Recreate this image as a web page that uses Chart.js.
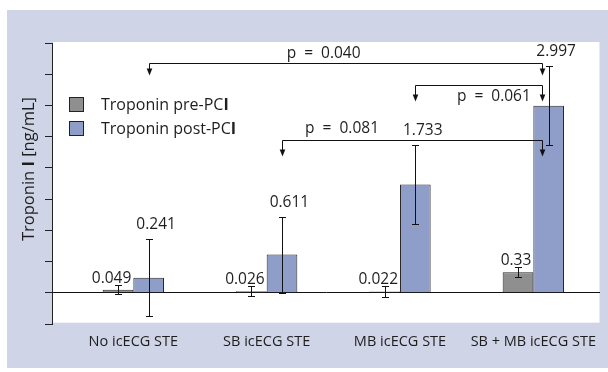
<!DOCTYPE html>
<html>
<head>
<meta charset="utf-8">
<script src="https://cdn.jsdelivr.net/npm/chart.js@4.4.1/dist/chart.umd.min.js"></script>
<style>
  body { margin: 0; background: #fff; }
  #wrap { width: 608px; height: 372px; position: relative; }
</style>
</head>
<body>
<div id="wrap"><canvas id="chart"></canvas></div>
<script>
// data
var categories = ["No icECG STE", "SB icECG STE", "MB icECG STE", "SB + MB icECG STE"];
var seriesNames = ["Troponin pre-PCI", "Troponin post-PCI"];
var preValues = [0.049, 0.026, 0.022, 0.33];
var preErrors = [0.07, 0.08, 0.085, 0.077];
var postValues = [0.241, 0.611, 1.733, 2.997];
var postErrors = [0.615, 0.61, 0.63, 0.63];
var yMin = -0.5, yMax = 4, yStep = 0.5;

// p-value brackets: from category -> to category, line level in ng/mL
var bracketFrom = [0, 2, 1];
var bracketTo = [3, 3, 3];
var bracketLevel = [3.68, 3.32, 2.44];
var bracketText = ["p = 0.040", "p = 0.061", "p = 0.081"];

var FONT = '"Open Sans", "Noto Sans", sans-serif';
var INK = "#1e1e1e";

function points(values) {
    return values.map(function(v, i) { return {x: i, y: v}; });
}

var framePlugin = {
    id: "frame",
    beforeDraw: function(chart) {
        var ctx = chart.ctx, a = chart.chartArea;
        ctx.save();
        ctx.fillStyle = "#ffffff";
        ctx.fillRect(0, 0, chart.width, chart.height);
        ctx.fillStyle = "#cfd4e6";
        ctx.fillRect(7, 10, chart.width - 7, chart.height - 14);
        ctx.fillStyle = "#ffffff";
        ctx.fillRect(a.left + 1, a.top - 1, a.right - a.left - 1.5, a.bottom - a.top - 0.3);
        ctx.restore();
    }
};

var errorBarPlugin = {
    id: "errorBars",
    afterDatasetsDraw: function(chart) {
        var ctx = chart.ctx, ys = chart.scales.y;
        ctx.save();
        ctx.strokeStyle = "#111";
        ctx.lineWidth = 1;
        ctx.fillStyle = INK;
        ctx.font = "15.5px " + FONT;
        ctx.textBaseline = "middle";
        chart.data.datasets.forEach(function(ds, di) {
            chart.getDatasetMeta(di).data.forEach(function(bar, i) {
                var v = ds.data[i].y, e = ds.errors[i];
                var x = Math.round(bar.x) + 0.5;
                var top = Math.round(ys.getPixelForValue(v + e)) + 0.5;
                var bot = Math.round(ys.getPixelForValue(v - e)) + 0.5;
                ctx.beginPath();
                ctx.moveTo(x, top); ctx.lineTo(x, bot);
                ctx.moveTo(x - 3.5, top); ctx.lineTo(x + 3.5, top);
                ctx.moveTo(x - 3.5, bot); ctx.lineTo(x + 3.5, bot);
                ctx.stroke();
                // value label
                if (di === 0) {
                    ctx.textAlign = "right";
                    ctx.fillText(String(v), bar.x + bar.width / 2 - 2, top - 7);
                } else {
                    ctx.textAlign = "left";
                    ctx.fillText(String(v), bar.x - bar.width / 2 + 3, top - 15);
                }
            });
        });
        ctx.restore();
    }
};

var bracketPlugin = {
    id: "brackets",
    afterDatasetsDraw: function(chart, args, opts) {
        var ctx = chart.ctx, ys = chart.scales.y;
        var post = chart.getDatasetMeta(1).data;
        ctx.save();
        ctx.strokeStyle = "#111";
        ctx.fillStyle = "#111";
        ctx.lineWidth = 1;
        ctx.font = "15.5px " + FONT;
        ctx.wordSpacing = "4px";
        ctx.textBaseline = "middle";
        ctx.textAlign = "center";
        bracketFrom.forEach(function(f, k) {
            var x1 = Math.round(post[f].x) + 0.5;
            var x2 = Math.round(post[bracketTo[k]].x - 6.5) + 0.5;
            var yl = Math.round(ys.getPixelForValue(bracketLevel[k])) + 0.5;
            var tip = yl + opts.drop[k];
            ctx.beginPath();
            ctx.moveTo(x1, tip - 6);
            ctx.lineTo(x1, yl);
            ctx.lineTo(x2, yl);
            ctx.lineTo(x2, tip - 6);
            ctx.stroke();
            [x1, x2].forEach(function(x) {
                ctx.beginPath();
                ctx.moveTo(x - 2.8, tip - 7);
                ctx.lineTo(x + 2.8, tip - 7);
                ctx.lineTo(x, tip);
                ctx.closePath();
                ctx.fill();
            });
            var lp = opts.label[k];
            ctx.fillStyle = INK;
            ctx.fillText(bracketText[k], x1 + (x2 - x1) * lp.t, yl + lp.dy);
            ctx.fillStyle = "#111";
        });
        ctx.restore();
    }
};

// draws text where the capital I is set in bold, as in the figure
function drawMixed(ctx, parts, x, y, size) {
    var w = 0;
    parts.forEach(function(p) {
        ctx.font = (p.bold ? "bold " : "") + size + "px " + FONT;
        p.w = ctx.measureText(p.text).width;
        w += p.w;
    });
    var cx = x;
    parts.forEach(function(p) {
        ctx.font = (p.bold ? "bold " : "") + size + "px " + FONT;
        ctx.fillText(p.text, cx, y);
        cx += p.w;
    });
    return w;
}

var legendPlugin = {
    id: "customLegend",
    afterDraw: function(chart) {
        var ctx = chart.ctx, a = chart.chartArea;
        ctx.save();
        ctx.textBaseline = "middle";
        ctx.textAlign = "left";
        chart.data.datasets.forEach(function(ds, i) {
            var bx = a.left + 17, by = a.top + 54 + i * 24;
            ctx.fillStyle = ds.backgroundColor;
            ctx.fillRect(bx, by, 15, 15);
            ctx.strokeStyle = "#222";
            ctx.lineWidth = 1;
            ctx.strokeRect(bx + 0.5, by + 0.5, 14, 14);
            ctx.fillStyle = INK;
            var name = ds.label;
            drawMixed(ctx, [{text: name.slice(0, -1)}, {text: name.slice(-1), bold: true}], bx + 32, by + 8.5, 16);
        });
        // y axis title
        ctx.translate(29, 169);
        ctx.rotate(-Math.PI / 2);
        var parts = [{text: "Troponin "}, {text: "I", bold: true}, {text: " [ng/mL]"}];
        var total = 0;
        parts.forEach(function(p) {
            ctx.font = (p.bold ? "bold " : "") + "16.5px " + FONT;
            total += ctx.measureText(p.text).width;
        });
        drawMixed(ctx, parts, -total / 2, 0, 16.5);
        ctx.restore();
    }
};

new Chart(document.getElementById("chart"), {
    type: "bar",
    data: {
        datasets: [{
            label: seriesNames[0],
            data: points(preValues),
            errors: preErrors,
            backgroundColor: "#8f8f8f",
            borderColor: "#2a2a2a",
            borderWidth: 1
        }, {
            label: seriesNames[1],
            data: points(postValues),
            errors: postErrors,
            backgroundColor: "#8e9ec8",
            borderColor: "#2a2a2a",
            borderWidth: 1
        }]
    },
    options: {
        responsive: true,
        maintainAspectRatio: false,
        animation: false,
        barPercentage: 1,
        categoryPercentage: 0.46,
        layout: {padding: {top: 43, right: 8, left: 0, bottom: 0}},
        plugins: {
            legend: {display: false},
            tooltip: {enabled: false},
            brackets: {
                drop: [12, 16, 16],
                label: [{t: 0.443, dy: -10}, {t: 0.617, dy: 11}, {t: 0.229, dy: -11.5}]
            }
        },
        scales: {
            x: {
                type: "linear",
                offset: false,
                min: -0.61,
                max: 3.5,
                afterFit: function(s) { s.height = 48; },
                afterBuildTicks: function(s) {
                    s.ticks = categories.map(function(c, i) { return {value: i}; });
                },
                grid: {display: false, drawTicks: false},
                border: {display: false},
                ticks: {
                    autoSkip: false,
                    maxRotation: 0,
                    padding: 9,
                    color: INK,
                    font: {family: FONT, size: 14.5},
                    callback: function(v) { return categories[v]; }
                }
            },
            y: {
                min: yMin,
                max: yMax,
                afterFit: function(s) { s.width = 52; },
                ticks: {display: false, stepSize: yStep},
                border: {display: true, color: "#222", width: 1},
                grid: {
                    drawTicks: true,
                    tickLength: 7,
                    tickColor: "#222",
                    color: function(c) {
                        return c.tick && c.tick.value === 0 ? "#111" : "rgba(0,0,0,0)";
                    }
                }
            }
        }
    },
    plugins: [framePlugin, errorBarPlugin, bracketPlugin, legendPlugin]
});
</script>
</body>
</html>
